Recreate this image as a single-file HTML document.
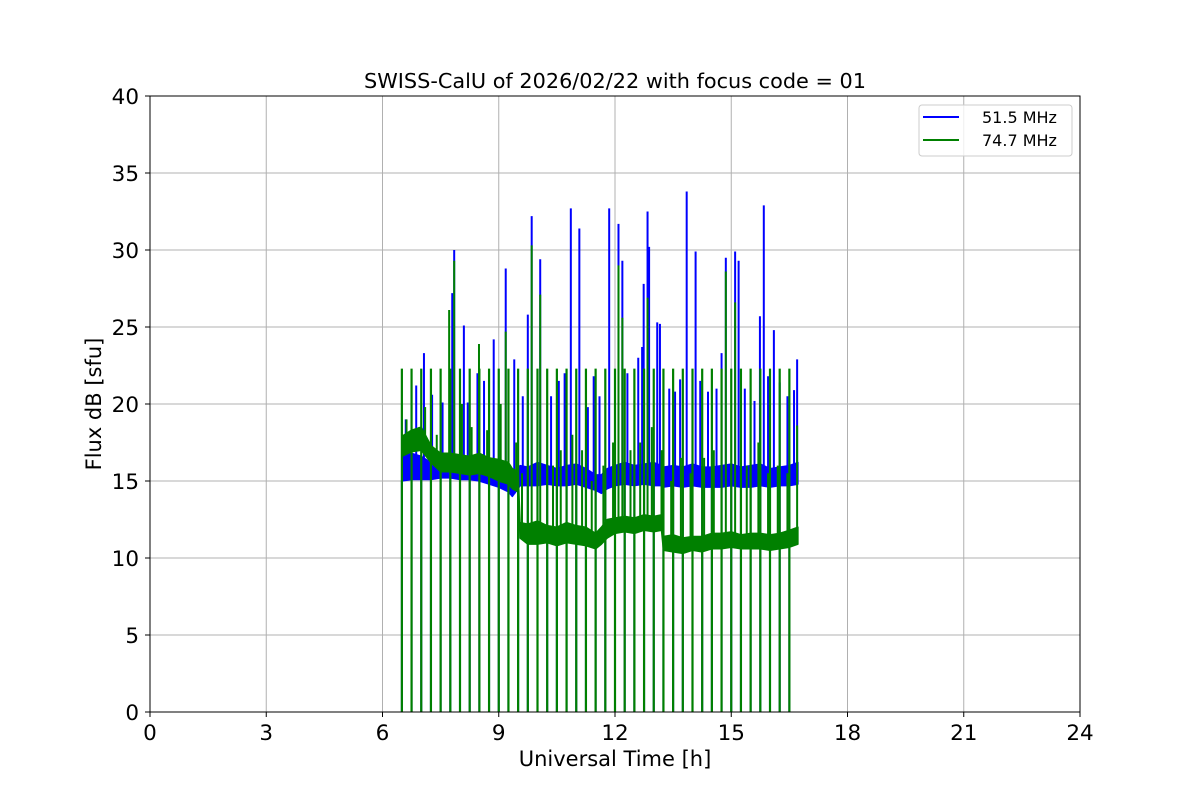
<!DOCTYPE html>
<html><head><meta charset="utf-8"><style>
html,body{margin:0;padding:0;background:#fff;}
svg{display:block;font-family:"DejaVu Sans","Liberation Sans",sans-serif;}
</style></head><body>
<svg id="chart" width="1200" height="800" viewBox="0 0 1200 800">
<rect x="0" y="0" width="1200" height="800" fill="#fff"/>
<g id="grid"></g>
<g id="plot"></g>
<rect x="150" y="96" width="930" height="616" fill="none" stroke="#000" stroke-width="1"/>
<g id="ticks"></g>
<text x="615" y="88" font-size="20.8" text-anchor="middle">SWISS-CalU of 2026/02/22 with focus code = 01</text>
<text x="615" y="766" font-size="21" text-anchor="middle">Universal Time [h]</text>
<text x="101" y="404" font-size="21" text-anchor="middle" transform="rotate(-90 101 404)">Flux dB [sfu]</text>
<g>
<rect x="919" y="105" width="153" height="51" rx="3" fill="#fff" fill-opacity="0.8" stroke="#ccc"/>
<line x1="923" y1="117" x2="959" y2="117" stroke="#0000ff" stroke-width="2"/>
<text x="982" y="123" font-size="16">51.5 MHz</text>
<line x1="923" y1="140" x2="959" y2="140" stroke="#008000" stroke-width="2"/>
<text x="982" y="146" font-size="16">74.7 MHz</text>
</g>
</svg>
<script>
const xTicks=[0,3,6,9,12,15,18,21,24];
const yTicks=[0,5,10,15,20,25,30,35,40];
const dropTimes=[6.5,6.75,7.0,7.25,7.5,7.75,8.0,8.25,8.5,8.75,9.0,9.25,9.5,9.75,10.0,10.25,10.5,10.75,11.0,11.25,11.5,11.75,12.0,12.25,12.5,12.75,13.0,13.25,13.5,13.75,14.0,14.25,14.5,14.75,15.0,15.25,15.5,15.75,16.0,16.25,16.5];
const greenDropPeak=22.3;
const bandT=[6.5,6.75,7.0,7.25,7.5,7.75,8.0,8.25,8.5,8.75,9.0,9.25,9.35,9.5,9.55,9.75,10.0,10.25,10.5,10.75,11.0,11.25,11.5,11.65,11.8,12.0,12.25,12.5,12.75,13.0,13.2,13.25,13.5,13.75,14.0,14.25,14.5,14.75,15.0,15.25,15.5,15.75,16.0,16.25,16.5,16.72];
const blueLo=[15.0,15.1,15.1,15.1,15.2,15.2,15.1,15.1,15.0,14.8,14.6,14.3,14.0,14.5,14.7,14.7,14.7,14.8,14.7,14.7,14.8,14.6,14.4,14.2,14.5,14.7,14.8,14.7,14.8,14.7,14.7,14.6,14.7,14.6,14.7,14.6,14.6,14.6,14.7,14.6,14.6,14.7,14.6,14.7,14.7,14.8];
const blueHi=[16.6,16.8,16.6,16.2,16.3,16.2,16.2,16.0,16.0,16.0,15.9,15.6,15.4,15.8,16.0,15.9,16.2,16.0,15.8,16.0,16.1,15.8,15.4,15.4,15.8,16.0,16.2,16.0,16.1,16.2,16.0,15.9,16.0,15.9,16.1,15.9,15.9,16.0,16.1,15.9,16.0,16.1,15.8,15.9,16.0,16.2];
const greenLo=[16.6,16.9,17.0,16.2,15.6,15.6,15.5,15.4,15.5,15.3,15.0,14.8,14.5,14.3,11.3,10.9,10.9,11.0,10.8,11.0,10.9,10.8,10.6,10.9,11.3,11.6,11.7,11.6,11.8,11.7,11.8,10.5,10.4,10.3,10.5,10.4,10.6,10.6,10.7,10.6,10.6,10.6,10.5,10.6,10.7,10.9];
const greenHi=[17.9,18.3,18.5,17.3,16.8,16.8,16.7,16.6,16.8,16.5,16.4,16.2,15.8,15.6,12.3,12.2,12.4,12.1,12.0,12.3,12.1,12.0,11.6,12.0,12.5,12.6,12.7,12.6,12.8,12.7,12.8,11.4,11.5,11.3,11.4,11.4,11.6,11.6,11.7,11.5,11.6,11.6,11.5,11.6,11.8,12.0];
const blueSpikeT=[6.6,6.87,7.07,7.28,7.55,7.80,7.85,8.10,8.20,8.45,8.62,8.87,9.0,9.18,9.4,9.62,9.75,9.85,10.07,10.35,10.55,10.70,10.86,11.08,11.3,11.45,11.6,11.85,12.09,12.19,12.32,12.6,12.70,12.74,12.84,12.88,13.09,13.16,13.4,13.55,13.68,13.85,14.08,14.2,14.4,14.62,14.75,14.86,15.10,15.19,15.35,15.60,15.74,15.84,15.95,16.10,16.25,16.45,16.62,16.70];
const blueSpikeV=[19.0,21.2,23.3,20.6,20.1,27.2,30.0,25.1,20.1,22.0,21.5,24.2,20.0,28.8,22.9,20.5,25.8,32.2,29.4,20.5,21.5,22.0,32.7,31.4,19.8,21.8,20.5,32.7,31.7,29.3,22.0,23.0,23.7,27.8,32.5,30.2,25.3,25.2,21.0,20.8,21.6,33.8,29.9,21.5,20.8,21.0,23.3,29.5,29.9,29.3,21.0,20.2,25.7,32.9,21.8,24.8,21.4,20.5,20.9,22.9];
const greenSpikeT=[6.62,6.95,7.10,7.4,7.72,7.85,8.05,8.30,8.49,8.70,9.05,9.18,9.45,9.60,9.85,10.07,10.4,10.6,10.9,11.15,11.4,11.7,11.95,12.09,12.19,12.4,12.65,12.84,12.95,13.2,13.45,13.7,13.95,14.3,14.55,14.86,15.10,15.4,15.7,15.95,16.2,16.45,16.70];
const greenSpikeV=[19.0,18.5,19.8,18.0,26.1,29.3,20.0,18.5,23.9,18.3,20.0,24.7,17.5,15.5,30.3,27.1,16.0,17.0,18.0,17.0,15.0,16.0,17.5,29.0,25.6,17.0,17.5,26.9,18.5,17.0,15.0,16.5,15.5,16.5,17.0,28.6,26.6,16.0,17.5,15.5,16.0,15.5,18.6];

const X=t=>150+t*930/24;
const Y=v=>712-v*616/40;
const NS='http://www.w3.org/2000/svg';
function mk(tag,attrs,parent){const e=document.createElementNS(NS,tag);for(const k in attrs)e.setAttribute(k,attrs[k]);parent.appendChild(e);return e;}
function interp(arr,t){for(let i=0;i<bandT.length-1;i++){if(t>=bandT[i]&&t<=bandT[i+1]){const f=(t-bandT[i])/(bandT[i+1]-bandT[i]);return arr[i]+f*(arr[i+1]-arr[i]);}}return arr[arr.length-1];}
const grid=document.getElementById('grid'),plot=document.getElementById('plot'),ticks=document.getElementById('ticks');
xTicks.forEach(v=>{
 const g=mk('line',{x1:X(v),x2:X(v),y1:96,y2:712,stroke:'#b0b0b0','stroke-width':1},grid);
 
 
 const tk=mk('line',{x1:X(v),x2:X(v),y1:712,y2:717,stroke:'#000'},ticks);
 
 
 const tx=mk('text',{x:X(v),y:740,'font-size':21.5,'text-anchor':'middle'},ticks);tx.textContent=v;
 
 
});
yTicks.forEach(v=>{
 const g=mk('line',{x1:150,x2:1080,y1:Y(v),y2:Y(v),stroke:'#b0b0b0','stroke-width':1},grid);
 
 
 const tk=mk('line',{x1:145,x2:150,y1:Y(v),y2:Y(v),stroke:'#000'},ticks);
 
 
 const tx=mk('text',{x:139,y:Y(v)+8,'font-size':21.5,'text-anchor':'end'},ticks);tx.textContent=v;
 
 
});
function band(lo,hi,color,name){
 let pts=bandT.map((t,i)=>X(t)+','+Y(hi[i]));
 for(let i=bandT.length-1;i>=0;i--)pts.push(X(bandT[i])+','+Y(lo[i]));
 const p=mk('polygon',{points:pts.join(' '),fill:color,stroke:color,'stroke-width':1.5,'stroke-linejoin':'round'},plot);
 
 
}
function spikes(ts,vs,lo,color,name){
 ts.forEach((t,i)=>{
  const l=mk('line',{x1:X(t),x2:X(t),y1:Y(interp(lo,t)),y2:Y(vs[i]),stroke:color,'stroke-width':2},plot);
  
  
 });
}
band(blueLo,blueHi,'#0000ff','blue-noise-band');
spikes(blueSpikeT,blueSpikeV,blueLo,'#0000ff','blue-spike');
dropTimes.forEach(t=>{
 const l=mk('line',{x1:X(t),x2:X(t),y1:Y(0),y2:Y(interp(blueLo,t)),stroke:'#0000ff','stroke-width':2},plot);
 
 
});
band(greenLo,greenHi,'#008000','green-noise-band');
spikes(greenSpikeT,greenSpikeV,greenLo,'#008000','green-spike');
dropTimes.forEach(t=>{
 const l=mk('line',{x1:X(t),x2:X(t),y1:Y(0),y2:Y(greenDropPeak),stroke:'#008000','stroke-width':2.2},plot);
 
 
});
</script>
</body></html>
